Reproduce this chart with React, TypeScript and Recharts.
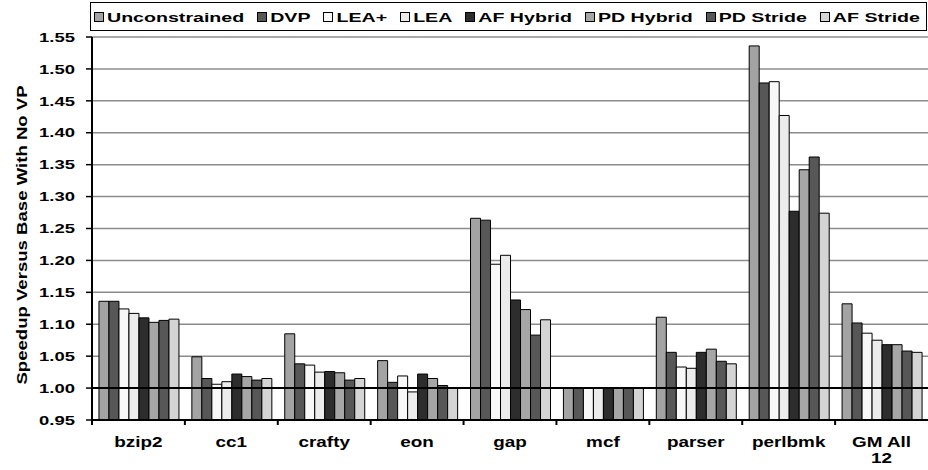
import React from 'react';
import { BarChart, Bar, XAxis, YAxis, CartesianGrid, ReferenceLine } from 'recharts';

const categories = ['bzip2', 'cc1', 'crafty', 'eon', 'gap', 'mcf', 'parser', 'perlbmk', 'GM All 12'];
const xTickLabels = [['bzip2'], ['cc1'], ['crafty'], ['eon'], ['gap'], ['mcf'], ['parser'], ['perlbmk'], ['GM All', '12']];
const yTicks = [0.95, 1.0, 1.05, 1.1, 1.15, 1.2, 1.25, 1.3, 1.35, 1.4, 1.45, 1.5, 1.55];

const seriesNames = ['Unconstrained', 'DVP', 'LEA+', 'LEA', 'AF Hybrid', 'PD Hybrid', 'PD Stride', 'AF Stride'];
const seriesColors = ['#a3a3a3', '#575757', '#f8f8f8', '#ececec', '#2d2d2d', '#a6a6a6', '#575757', '#d4d4d4'];

const unconstrained = [1.136, 1.049, 1.085, 1.043, 1.266, 1.0, 1.111, 1.536, 1.132];
const dvp = [1.136, 1.015, 1.038, 1.009, 1.263, 1.0, 1.056, 1.478, 1.102];
const leaPlus = [1.124, 1.006, 1.036, 1.019, 1.194, 1.0, 1.033, 1.48, 1.086];
const lea = [1.117, 1.01, 1.025, 0.994, 1.208, 1.0, 1.031, 1.427, 1.075];
const afHybrid = [1.11, 1.022, 1.026, 1.022, 1.138, 1.0, 1.056, 1.277, 1.068];
const pdHybrid = [1.103, 1.018, 1.024, 1.015, 1.123, 1.0, 1.061, 1.342, 1.068];
const pdStride = [1.106, 1.0125, 1.0125, 1.004, 1.083, 1.0, 1.042, 1.362, 1.058];
const afStride = [1.108, 1.015, 1.015, 1.0, 1.107, 1.0, 1.038, 1.274, 1.056];

const seriesValues = [unconstrained, dvp, leaPlus, lea, afHybrid, pdHybrid, pdStride, afStride];

const data = categories.map((name, i) => {
  const row: Record<string, number | string> = { name };
  seriesValues.forEach((vals, j) => {
    row['s' + j] = vals[i];
  });
  return row;
});

const FONT = '"Liberation Sans", Arial, Helvetica, sans-serif';
const CHART_W = 928;
const CHART_H = 470;
const Y_AXIS_W = 92;
const BAND = (CHART_W - Y_AXIS_W) / categories.length;

const YTick = (props: any) => {
  const { x, y, payload } = props;
  return (
    <text
      transform={`translate(${x},${y}) scale(1.42,1)`}
      textAnchor="end"
      dy="0.36em"
      fontSize={13}
      fontWeight="bold"
      fontFamily={FONT}
      fill="#000"
    >
      {Number(payload.value).toFixed(2)}
    </text>
  );
};

const XTick = (props: any) => {
  const { x, y, index, payload } = props;
  const lines = xTickLabels[index] || [String(payload.value)];
  const bx = x - BAND / 2;
  return (
    <g>
      <line x1={bx} y1={y} x2={bx} y2={y + 5} stroke="#000" strokeWidth={2} />
      {lines.map((t, k) => (
        <text
          key={k}
          transform={`translate(${x},${y + 27 + k * 16}) scale(1.35,1)`}
          textAnchor="middle"
          fontSize={14}
          fontWeight="bold"
          fontFamily={FONT}
          fill="#000"
        >
          {t}
        </text>
      ))}
    </g>
  );
};

const YTitle = (props: any) => {
  const vb = props.viewBox || { x: 0, y: 37, width: 92, height: 383 };
  const cx = vb.x + 27;
  const cy = vb.y + vb.height / 2 + 6.5;
  return (
    <text
      transform={`translate(${cx},${cy}) rotate(-90) scale(1.24,1)`}
      textAnchor="middle"
      fontSize={15}
      fontWeight="bold"
      fontFamily={FONT}
      fill="#000"
    >
      Speedup Versus Base With No VP
    </text>
  );
};

const LegendBox = () => (
  <div
    style={{
      position: 'absolute',
      left: 90,
      top: 2,
      width: 837,
      height: 29,
      border: '1px solid #000',
      boxSizing: 'border-box',
      display: 'flex',
      alignItems: 'center',
      paddingLeft: 3,
      background: '#fff',
      overflow: 'hidden',
    }}
  >
    {seriesNames.map((n, i) => (
      <div key={n} style={{ display: 'flex', alignItems: 'center', marginRight: 13 }}>
        <span
          style={{
            display: 'inline-block',
            width: 10,
            height: 10,
            border: '1px solid #000',
            boxSizing: 'border-box',
            background: seriesColors[i],
            marginRight: 3,
          }}
        />
        <span
          style={{
            display: 'inline-block',
            fontFamily: FONT,
            fontWeight: 'bold',
            fontSize: 19.6,
            lineHeight: '20px',
            transform: 'scaleY(0.69)',
            whiteSpace: 'nowrap',
            color: '#000',
          }}
        >
          {n}
        </span>
      </div>
    ))}
  </div>
);

export default function App() {
  return (
    <div style={{ position: 'absolute', left: 0, top: 0, width: CHART_W, height: CHART_H, background: '#fff' }}>
      <BarChart
        width={CHART_W}
        height={CHART_H}
        data={data}
        margin={{ top: 37, right: 0, bottom: 0, left: 0 }}
        barCategoryGap="7.5%"
        barGap={0}
      >
        <CartesianGrid vertical={false} stroke="#8c8c8c" strokeWidth={1.5} />
        <XAxis
          dataKey="name"
          height={50}
          interval={0}
          tickSize={0}
          tickMargin={0}
          tick={<XTick />}
          axisLine={{ stroke: '#000', strokeWidth: 2 }}
        />
        <YAxis
          width={Y_AXIS_W}
          domain={[0.95, 1.55]}
          ticks={yTicks}
          interval={0}
          tickSize={6}
          tickMargin={11}
          tick={<YTick />}
          tickLine={{ stroke: '#000', strokeWidth: 1.5 }}
          axisLine={{ stroke: '#000', strokeWidth: 2 }}
          label={{ content: <YTitle /> }}
        />
        {seriesNames.map((n, j) => (
          <Bar
            key={n}
            dataKey={'s' + j}
            name={n}
            fill={seriesColors[j]}
            stroke="#000"
            strokeWidth={1}
            isAnimationActive={false}
          />
        ))}
        <ReferenceLine y={1.0} stroke="#000" strokeWidth={2} />
      </BarChart>
      <LegendBox />
    </div>
  );
}
